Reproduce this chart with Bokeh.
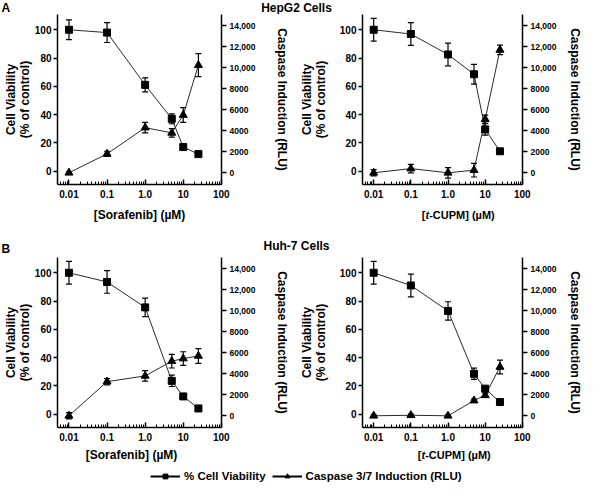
import numpy as np
from bokeh.plotting import figure
from bokeh.models import Range1d, LinearAxis, FixedTicker, Label, Legend, LegendItem
from bokeh.layouts import column, row
from bokeh.embed import file_html
from bokeh.resources import INLINE

# ---------------- data ----------------
conc = [0.01, 0.1, 1.0, 5, 10, 25]

hep_sor_via = [100, 98, 61, 37, 17, 12]
hep_sor_via_err = [7, 7, 5, 3.5, 1, 1]
hep_sor_casp = [0, 1800, 4300, 3800, 5500, 10250]
hep_sor_casp_err = [100, 250, 500, 400, 700, 1100]

hep_cupm_via = [100, 97, 82.5, 68.5, 29.5, 14]
hep_cupm_via_err = [8, 8, 8, 7, 4, 1]
hep_cupm_casp = [0, 400, 0, 250, 5100, 11700]
hep_cupm_casp_err = [300, 400, 500, 650, 400, 450]

huh_sor_via = [100, 93.5, 75.5, 23.5, 12.5, 4]
huh_sor_via_err = [8, 8, 6.5, 4, 1, 1]
huh_sor_casp = [0, 3250, 3800, 5200, 5450, 5700]
huh_sor_casp_err = [300, 300, 500, 650, 650, 700]

huh_cupm_via = [100, 91, 73, 28.5, 18, 8.5]
huh_cupm_via_err = [8, 8, 6.5, 4, 1, 1]
huh_cupm_casp = [0, 50, 0, 1450, 1950, 4650]
huh_cupm_casp_err = [100, 100, 100, 150, 200, 650]

x_ticks = [0.01, 0.1, 1, 10, 100]
x_tick_labels = ["0.01", "0.1", "1.0", "10", "100"]
via_ticks = [0, 20, 40, 60, 80, 100]
casp_ticks = [0, 2000, 4000, 6000, 8000, 10000, 12000, 14000]
casp_tick_labels = ["0", "2000", "4000", "6000", "8000", "10,000", "12,000", "14,000"]

# ---------------- style ----------------
FONT = "Liberation Sans"
X_START, X_END = 0.005, 101
VIA_LO, VIA_HI = -9.5, 110.8
CASP_LO, CASP_HI = -1115, 15075
LINE_C = "#2a2a2a"

minor = [m * 10.0 ** d for d in range(-3, 2) for m in range(2, 10)]
minor = [v for v in minor if X_START < v < X_END]


def txt(label, size="12px", style="bold"):
    label.text_font = FONT
    label.text_font_size = size
    label.text_font_style = style
    label.text_color = "black"
    return label


def blank(w, h):
    f = figure(width=w, height=h, x_range=Range1d(0, 1), y_range=Range1d(0, 1),
               x_axis_location=None, y_axis_location=None, min_border=0,
               toolbar_location=None, output_backend="svg")
    f.outline_line_color = None
    f.xgrid.visible = False
    f.ygrid.visible = False
    return f


def make_panel(via, via_err, casp, casp_err, w, h, left_b, right_b, top_b, bottom_b,
               left_std, right_std):
    p = figure(x_axis_type="log", x_range=Range1d(X_START, X_END),
               y_range=Range1d(VIA_LO, VIA_HI), width=w, height=h,
               min_border_left=left_b, min_border_right=right_b,
               min_border_top=top_b, min_border_bottom=bottom_b,
               toolbar_location=None, output_backend="svg")
    p.extra_y_ranges = {"casp": Range1d(CASP_LO, CASP_HI)}
    p.outline_line_color = None
    p.xgrid.visible = False
    p.ygrid.visible = False

    xa = p.xaxis[0]
    xa.ticker = FixedTicker(ticks=x_ticks, minor_ticks=minor)
    xa.major_label_overrides = dict(zip(x_ticks, x_tick_labels))
    xa.major_tick_in, xa.major_tick_out = 5, 0
    xa.minor_tick_in, xa.minor_tick_out = 3, 0
    xa.major_label_standoff = 5
    xa.minor_tick_line_color = "black"

    ya = p.yaxis[0]
    ya.ticker = FixedTicker(ticks=via_ticks)
    ya.major_tick_in, ya.major_tick_out = 0, 4
    ya.minor_tick_line_color = None
    ya.major_label_standoff = 2
    ya.axis_label = "Cell Viability\n(% of control)"
    ya.axis_label_standoff = left_std

    ra = LinearAxis(y_range_name="casp", ticker=FixedTicker(ticks=casp_ticks))
    ra.major_label_overrides = dict(zip(casp_ticks, casp_tick_labels))
    ra.major_tick_in, ra.major_tick_out = 0, 5
    ra.minor_tick_line_color = None
    ra.major_label_standoff = 3
    ra.axis_label = "Caspase Induction (RLU)"
    ra.axis_label_standoff = right_std
    p.add_layout(ra, "right")

    for ax in (xa, ya, ra):
        ax.axis_line_width = 1.5
        ax.axis_line_color = "black"
        ax.major_tick_line_width = 1.5
        ax.major_tick_line_color = "black"
        ax.minor_tick_line_width = 1
        ax.major_label_text_font = FONT
        ax.major_label_text_font_size = "10px"
        ax.major_label_text_font_style = "bold"
        ax.major_label_text_color = "black"
        ax.axis_label_text_font = FONT
        ax.axis_label_text_font_size = "12px"
        ax.axis_label_text_font_style = "bold"
        ax.axis_label_text_color = "black"
        ax.axis_label_text_line_height = 1.0
    ra.major_label_text_font_size = "8.5px"

    v = np.array(via, dtype=float)
    ve = np.array(via_err, dtype=float)
    c = np.array(casp, dtype=float)
    ce = np.array(casp_err, dtype=float)

    p.line(conc, via, line_color=LINE_C, line_width=1)
    p.line(conc, casp, line_color=LINE_C, line_width=1, y_range_name="casp")
    p.segment(x0=conc, y0=v - ve, x1=conc, y1=v + ve, line_color="black", line_width=1.2)
    p.scatter(conc, v + ve, marker="dash", size=6, line_color="black", line_width=1.2)
    p.scatter(conc, v - ve, marker="dash", size=6, line_color="black", line_width=1.2)
    p.segment(x0=conc, y0=c - ce, x1=conc, y1=c + ce, line_color="black", line_width=1.2,
              y_range_name="casp")
    p.scatter(conc, c + ce, marker="dash", size=6, line_color="black", line_width=1.2,
              y_range_name="casp")
    p.scatter(conc, c - ce, marker="dash", size=6, line_color="black", line_width=1.2,
              y_range_name="casp")
    p.scatter(conc, casp, marker="triangle", size=8, color="black", y_range_name="casp")
    p.scatter(conc, via, marker="square", size=7, color="black")
    return p


def header(h, letter, title, letter_top, title_top):
    hp = blank(585, h)
    hp.add_layout(txt(Label(x=1, y=letter_top, x_units="screen", y_units="screen",
                            text=letter, text_align="left", text_baseline="top")))
    hp.add_layout(txt(Label(x=296, y=title_top, x_units="screen", y_units="screen",
                            text=title, text_align="center", text_baseline="top")))
    return hp


def xtitles(h, y_mid, sor_center, cupm_center):
    s = blank(585, h)
    s.add_layout(txt(Label(x=sor_center, y=y_mid, x_units="screen", y_units="screen",
                           text="[Sorafenib] (µM)", text_align="center",
                           text_baseline="middle")))
    f = 11.0
    w_br, w_t, w_rest = 0.333 * f, 0.333 * f, 6.0 * f
    x0 = cupm_center - (w_br + w_t + w_rest) / 2
    for t, xx, st in (("[", x0, "bold"), ("t", x0 + w_br, "bold italic"),
                      ("-CUPM] (µM)", x0 + w_br + w_t, "bold")):
        s.add_layout(txt(Label(x=xx, y=y_mid, x_units="screen", y_units="screen", text=t,
                               text_align="left", text_baseline="middle"),
                         size="11px", style=st))
    return s


LW, RW = 296, 289
pA1 = make_panel(hep_sor_via, hep_sor_via_err, hep_sor_casp, hep_sor_casp_err,
                 LW, 191, 49, 75, 0, 21, 0, 17)
pA2 = make_panel(hep_cupm_via, hep_cupm_via_err, hep_cupm_casp, hep_cupm_casp_err,
                 RW, 191, 62, 56, 0, 21, 9, 9)
pB1 = make_panel(huh_sor_via, huh_sor_via_err, huh_sor_casp, huh_sor_casp_err,
                 LW, 191, 49, 75, 1, 20, 0, 17)
pB2 = make_panel(huh_cupm_via, huh_cupm_via_err, huh_cupm_casp, huh_cupm_casp_err,
                 RW, 191, 62, 56, 1, 20, 9, 9)

hA = header(14, "A", "HepG2 Cells", 14, 14)
tA = xtitles(19, 10, 139, 458)
hB = header(32, "B", "Huh-7 Cells", 15, 18)
tB = xtitles(17, 10, 131, 454)

# legend strip (legend-only renderers kept outside the visible y range)
lf = blank(585, 18)
l1 = lf.line(x=conc, y=hep_sor_via, line_color="black", line_width=2)
m1 = lf.scatter(x=conc, y=hep_sor_via, marker="square", size=8, color="black")
l2 = lf.line(x=conc, y=hep_sor_via, line_color="black", line_width=2)
m2 = lf.scatter(x=conc, y=hep_sor_via, marker="triangle", size=9, color="black")
legend = Legend(items=[LegendItem(label="% Cell Viability", renderers=[l1, m1]),
                       LegendItem(label="Caspase 3/7 Induction (RLU)", renderers=[l2, m2])],
                orientation="horizontal", location=(150, 0), padding=0, margin=0,
                spacing=6, glyph_width=30, glyph_height=12, label_height=12,
                label_standoff=4, border_line_color=None, background_fill_alpha=0,
                label_text_font=FONT, label_text_font_size="11.5px",
                label_text_font_style="bold", label_text_color="black")
lf.add_layout(legend)

layout = column(hA, row(pA1, pA2), tA, hB, row(pB1, pB2), tB, lf)

with open("out.html", "w", encoding="utf-8") as fh:
    fh.write(file_html(layout, INLINE))
